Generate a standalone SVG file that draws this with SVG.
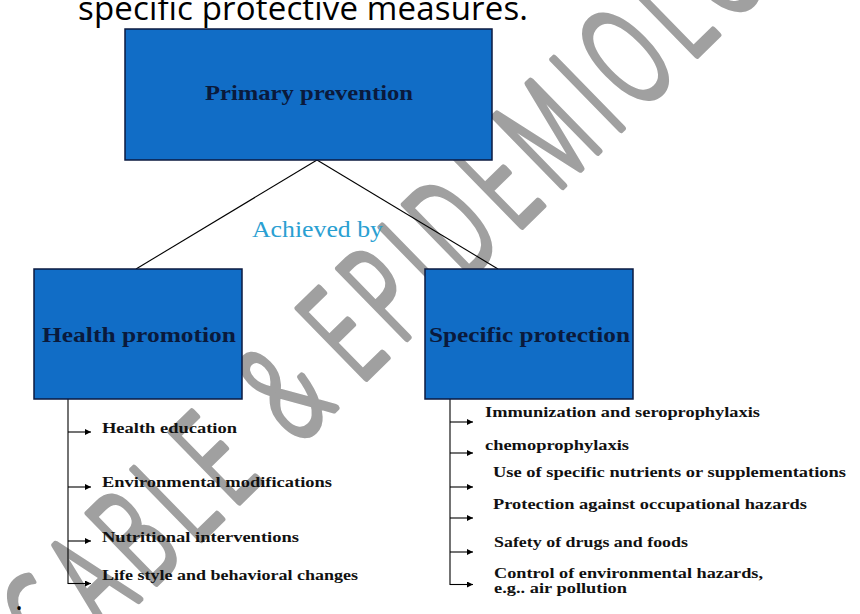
<svg xmlns="http://www.w3.org/2000/svg" width="860" height="614" viewBox="0 0 860 614">
<defs>
<style>
.box{fill:#116dc6;stroke:#0b1a40;stroke-width:1.5}
.lbl{font-family:"Liberation Serif","Times New Roman",serif;font-weight:bold;fill:#0a1a3c;text-anchor:middle}
.item{font-family:"Liberation Serif","Times New Roman",serif;font-weight:bold;fill:#111111;font-size:15px}
.conn{stroke:#000;stroke-width:1.1;fill:none}
.wm{font-family:"Open Sans","DejaVu Sans",sans-serif;font-weight:300;font-size:136px;fill:#a0a0a0;stroke:#a0a0a0;stroke-width:6;stroke-linejoin:round;vector-effect:non-scaling-stroke;letter-spacing:21px}
</style>
<marker id="ah" viewBox="0 0 10 10" refX="10" refY="5" markerWidth="7" markerHeight="6" markerUnits="userSpaceOnUse" orient="auto">
<path d="M0,0 L10,5 L0,10 z" fill="#000"/>
</marker>
</defs>
<rect width="860" height="614" fill="#fff"/>
<g id="watermark" transform="translate(362,382) rotate(-44.3) scale(0.59,1)">
<text class="wm" x="-36" y="0" text-anchor="end">CABLE &amp;</text>
<text class="wm" x="-6" y="0">EPIDEMIOLO</text>
</g>
<text id="heading" x="78" y="20" font-family="Open Sans, sans-serif" font-size="33" textLength="450" fill="#000">specific protective measures.</text>
<g id="connectors">
<line class="conn" x1="317" y1="160" x2="136" y2="269"/>
<line class="conn" x1="317" y1="160" x2="498" y2="269"/>
<line class="conn" x1="68" y1="399" x2="68" y2="584"/>
<line class="conn" x1="68" y1="432" x2="91" y2="432" marker-end="url(#ah)"/>
<line class="conn" x1="68" y1="487" x2="91" y2="487" marker-end="url(#ah)"/>
<line class="conn" x1="68" y1="541" x2="91" y2="541" marker-end="url(#ah)"/>
<line class="conn" x1="68" y1="583.5" x2="91" y2="583.5" marker-end="url(#ah)"/>
<line class="conn" x1="450" y1="399" x2="450" y2="585"/>
<line class="conn" x1="450" y1="422" x2="473" y2="422" marker-end="url(#ah)"/>
<line class="conn" x1="450" y1="453" x2="473" y2="453" marker-end="url(#ah)"/>
<line class="conn" x1="450" y1="487" x2="473" y2="487" marker-end="url(#ah)"/>
<line class="conn" x1="450" y1="518" x2="473" y2="518" marker-end="url(#ah)"/>
<line class="conn" x1="450" y1="552" x2="473" y2="552" marker-end="url(#ah)"/>
<line class="conn" x1="450" y1="584.5" x2="473" y2="584.5" marker-end="url(#ah)"/>
</g>
<text id="achieved" x="252" y="237" font-family="Liberation Serif, serif" font-size="23" fill="#2aa0d2" textLength="131" lengthAdjust="spacingAndGlyphs">Achieved by</text>
<g id="primary">
<rect class="box" x="125" y="29" width="367" height="131"/>
<text class="lbl" x="309" y="100" font-size="21" textLength="208" lengthAdjust="spacingAndGlyphs">Primary prevention</text>
</g>
<g id="health">
<rect class="box" x="34" y="269" width="208" height="130"/>
<text class="lbl" x="139" y="342" font-size="22" textLength="194" lengthAdjust="spacingAndGlyphs">Health promotion</text>
</g>
<g id="specific">
<rect class="box" x="425" y="269" width="208" height="130"/>
<text class="lbl" x="529.5" y="342" font-size="22" textLength="201" lengthAdjust="spacingAndGlyphs">Specific protection</text>
</g>
<g id="health-items">
<text class="item" x="102" y="433" textLength="135" lengthAdjust="spacingAndGlyphs">Health education</text>
<text class="item" x="102" y="487" textLength="230" lengthAdjust="spacingAndGlyphs">Environmental modifications</text>
<text class="item" x="102" y="542" textLength="197" lengthAdjust="spacingAndGlyphs">Nutritional interventions</text>
<text class="item" x="102" y="580" textLength="256" lengthAdjust="spacingAndGlyphs">Life style and behavioral changes</text>
</g>
<g id="specific-items">
<text class="item" x="485" y="417" font-size="14" textLength="275" lengthAdjust="spacingAndGlyphs">Immunization and seroprophylaxis</text>
<text class="item" x="485" y="450" font-size="14" textLength="144" lengthAdjust="spacingAndGlyphs">chemoprophylaxis</text>
<text class="item" x="493" y="477" font-size="14" textLength="353" lengthAdjust="spacingAndGlyphs">Use of specific nutrients or supplementations</text>
<text class="item" x="493" y="509" font-size="14" textLength="314" lengthAdjust="spacingAndGlyphs">Protection against occupational hazards</text>
<text class="item" x="494" y="547" font-size="14" textLength="194" lengthAdjust="spacingAndGlyphs">Safety of drugs and foods</text>
<text class="item" x="494" y="578" font-size="14" textLength="269" lengthAdjust="spacingAndGlyphs">Control of environmental hazards,</text>
<text class="item" x="494" y="593" font-size="14" textLength="133" lengthAdjust="spacingAndGlyphs">e.g.. air pollution</text>
</g>
<text id="bullet" x="16" y="614" font-family="Open Sans, sans-serif" font-size="16" fill="#000">•</text>
</svg>
